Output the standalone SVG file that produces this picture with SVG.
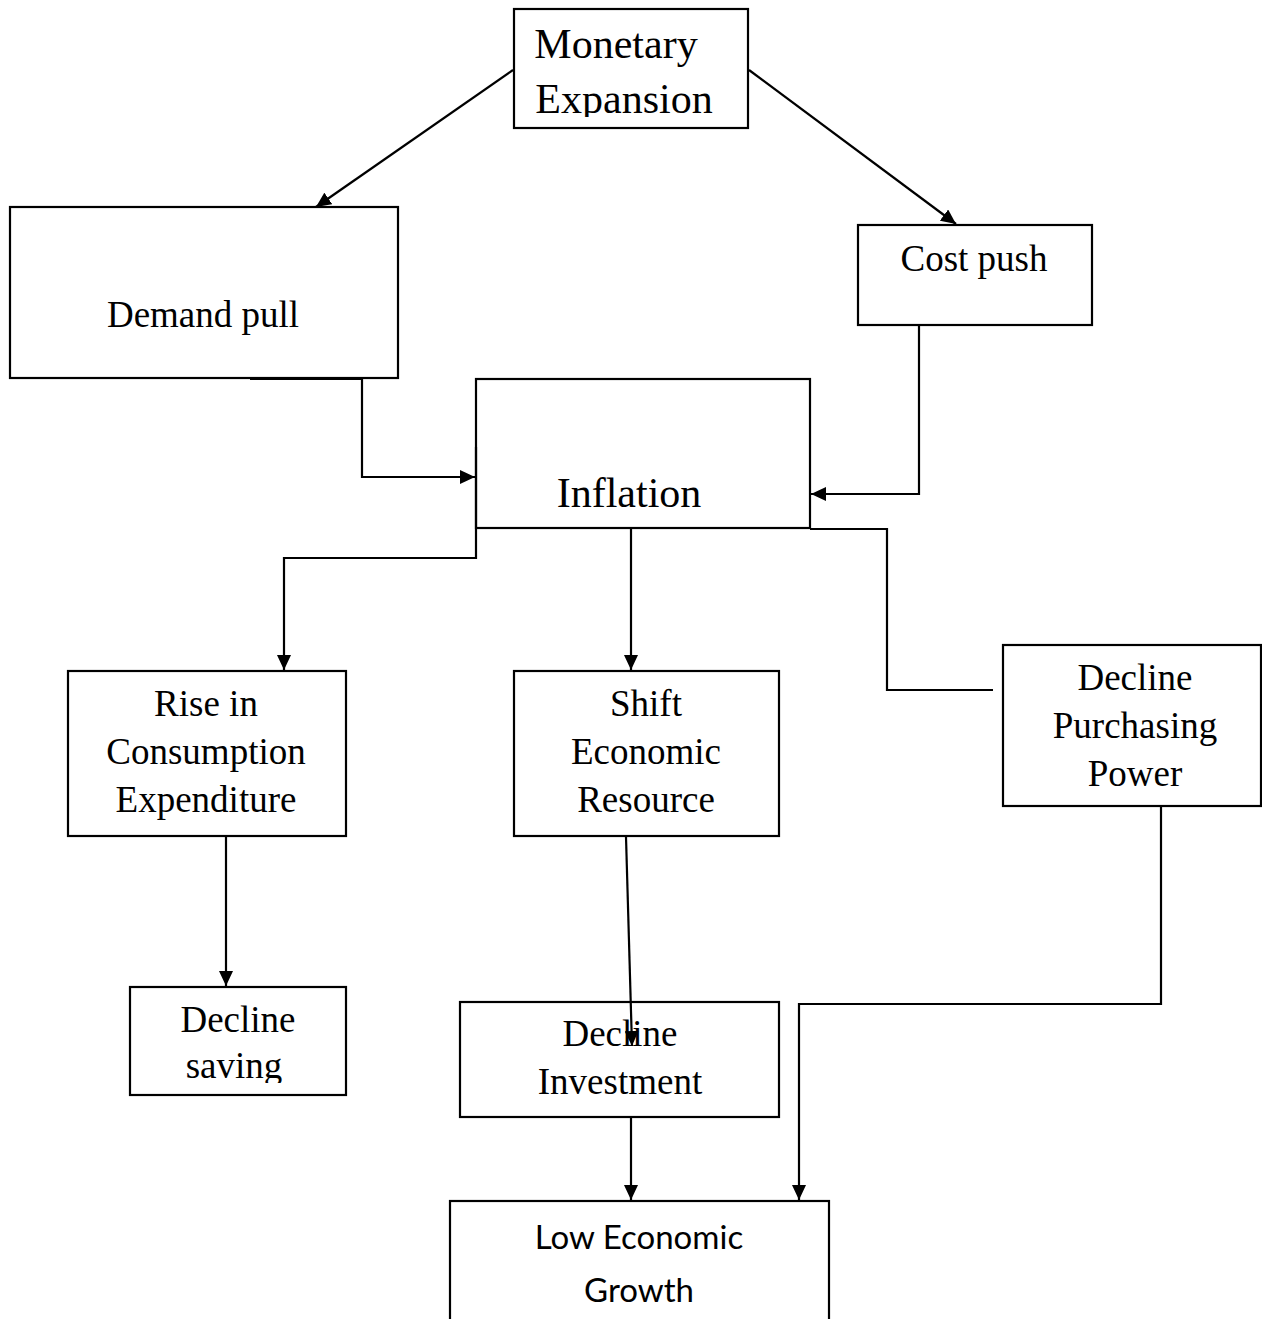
<svg xmlns="http://www.w3.org/2000/svg" width="1262" height="1319" viewBox="0 0 1262 1319">
<style>
.box{fill:#fff;stroke:#000;stroke-width:2.2}
.t{font-family:"Liberation Serif","Times New Roman",serif;font-size:37px;fill:#000;text-anchor:middle}
.big{font-size:42px}
.s{font-family:Lato,"Open Sans",sans-serif;font-size:33px;fill:#000;text-anchor:middle}
.c{fill:none;stroke:#000;stroke-width:2.2}
</style>
<defs>
<marker id="ah" markerUnits="userSpaceOnUse" markerWidth="16" markerHeight="14" refX="15" refY="7" orient="auto">
<path d="M0,0 L15,7 L0,14 Z" fill="#000"/>
</marker>
<clipPath id="cm"><rect x="514" y="9" width="234" height="108"/></clipPath>
<clipPath id="cs"><rect x="130" y="987" width="216" height="96"/></clipPath>
</defs>
<rect width="1262" height="1319" fill="#fff"/>
<g id="monetary">
<rect class="box" x="514" y="9" width="234" height="119"/>
<g clip-path="url(#cm)">
<text class="t big" x="616" y="58">Monetary</text>
<text class="t big" x="624" y="113">Expansion</text>
</g>
</g>
<g id="demand">
<rect class="box" x="10" y="207" width="388" height="171"/>
<text class="t" x="203" y="327">Demand pull</text>
</g>
<g id="cost">
<rect class="box" x="858" y="225" width="234" height="100"/>
<text class="t" x="974" y="271">Cost push</text>
</g>
<g id="inflation">
<rect class="box" x="476" y="379" width="334" height="149"/>
<text class="t big" x="629" y="507">Inflation</text>
</g>
<g id="rise">
<rect class="box" x="68" y="671" width="278" height="165"/>
<text class="t" x="206" y="716">Rise in</text>
<text class="t" x="206" y="764">Consumption</text>
<text class="t" x="206" y="812">Expenditure</text>
</g>
<g id="shift">
<rect class="box" x="514" y="671" width="265" height="165"/>
<text class="t" x="646" y="716">Shift</text>
<text class="t" x="646" y="764">Economic</text>
<text class="t" x="646" y="812">Resource</text>
</g>
<g id="purchasing">
<rect class="box" x="1003" y="645" width="258" height="161"/>
<text class="t" x="1135" y="690">Decline</text>
<text class="t" x="1135" y="738">Purchasing</text>
<text class="t" x="1135" y="786">Power</text>
</g>
<g id="saving">
<rect class="box" x="130" y="987" width="216" height="108"/>
<g clip-path="url(#cs)">
<text class="t" x="238" y="1032">Decline</text>
<text class="t" x="234" y="1078">saving</text>
</g>
</g>
<g id="investment">
<rect class="box" x="460" y="1002" width="319" height="115"/>
<text class="t" x="620" y="1046">Decline</text>
<text class="t" x="620" y="1094">Investment</text>
</g>
<g id="growth">
<rect class="box" x="450" y="1201" width="379" height="130"/>
<text class="s" x="639" y="1249">Low Economic</text>
<text class="s" x="639" y="1302">Growth</text>
</g>
<g id="connectors">
<line class="c" x1="513" y1="70" x2="316" y2="207" marker-end="url(#ah)"/>
<line class="c" x1="749" y1="70" x2="956" y2="224" marker-end="url(#ah)"/>
<polyline class="c" points="250,379 362,379 362,477 475,477" marker-end="url(#ah)"/>
<polyline class="c" points="1028,325 919,325 919,494 811,494" marker-end="url(#ah)"/>
<line class="c" x1="476" y1="447" x2="476" y2="528"/>
<polyline class="c" points="476,528 476,558 284,558 284,670" marker-end="url(#ah)"/>
<line class="c" x1="631" y1="528" x2="631" y2="670" marker-end="url(#ah)"/>
<polyline class="c" points="810,529 887,529 887,690 993,690"/>
<line class="c" x1="226" y1="836" x2="226" y2="986" marker-end="url(#ah)"/>
<line class="c" x1="626" y1="837" x2="632" y2="1046" marker-end="url(#ah)"/>
<line class="c" x1="631" y1="1117" x2="631" y2="1200" marker-end="url(#ah)"/>
<polyline class="c" points="1161,806 1161,1004 799,1004 799,1200" marker-end="url(#ah)"/>
</g>
</svg>
